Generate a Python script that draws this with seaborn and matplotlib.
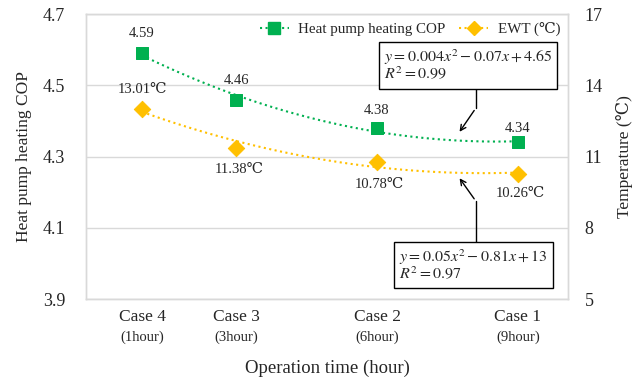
import numpy as np
import pandas as pd
import matplotlib
matplotlib.use('Agg')
import matplotlib.pyplot as plt
from matplotlib.lines import Line2D
import seaborn as sns

# Dados
casos = ['Case 4', 'Case 3', 'Case 2', 'Case 1']
horas = [1, 3, 6, 9]
horas_rotulo = ['(1hour)', '(3hour)', '(6hour)', '(9hour)']
cop = [4.59, 4.46, 4.38, 4.34]
ewt = [13.01, 11.38, 10.78, 10.26]
eq_cop = r'$y = 0.004x^2 - 0.07x + 4.65$' + '\n' + r'$R^2 = 0.99$'
eq_ewt = r'$y = 0.05x^2 - 0.81x + 13$' + '\n' + r'$R^2 = 0.97$'

df = pd.DataFrame({'hora': horas, 'cop': cop, 'ewt': ewt})

verde = '#00B050'
amarelo = '#FFC000'
cinza = '#D9D9D9'

sns.set_style('white')
plt.rcParams['font.family'] = ['Liberation Serif', 'DejaVu Serif', 'Noto Sans CJK JP']
plt.rcParams['mathtext.fontset'] = 'stix'

fig = plt.figure(figsize=(6.43, 3.82), dpi=100)
ax = fig.add_axes([0.134, 0.217, 0.749, 0.746])
ax2 = ax.twinx()

# COP
sns.regplot(x='hora', y='cop', data=df, order=2, ci=None, scatter=False, ax=ax,
            line_kws={'color': verde, 'ls': ':', 'lw': 1.5})
sns.scatterplot(x='hora', y='cop', data=df, ax=ax, marker='s', s=80,
                color=verde, edgecolor=verde, zorder=5)

# EWT
sns.regplot(x='hora', y='ewt', data=df, order=2, ci=None, scatter=False, ax=ax2,
            line_kws={'color': amarelo, 'ls': ':', 'lw': 1.5})
sns.scatterplot(x='hora', y='ewt', data=df, ax=ax2, marker='D', s=70,
                color=amarelo, edgecolor=amarelo, zorder=5)

# rotulos de dados
off_cop = [(0, 14), (0, 14), (0, 13), (0, 10)]
off_ewt = [(0, 14), (2, -16), (2, -16), (2, -14)]
for h, v, o in zip(horas, cop, off_cop):
    ax.annotate(f'{v:.2f}', (h, v), xytext=o, textcoords='offset points',
                ha='center', va='center', fontsize=10.5)
for h, v, o in zip(horas, ewt, off_ewt):
    ax2.annotate(f'{v:.2f}℃', (h, v), xytext=o, textcoords='offset points',
                 ha='center', va='center', fontsize=10.5)

# eixos
ax.set_xlim(-0.19, 10.06)
ax.set_ylim(3.9, 4.7)
ax.set_yticks([3.9, 4.1, 4.3, 4.5, 4.7])
ax.set_yticklabels(['3.9', '4.1', '4.3', '4.5', '4.7'])
ax2.set_ylim(5, 17)
ax2.set_yticks([5, 8, 11, 14, 17])
ax.set_xticks(horas)
ax.set_xticklabels(casos, fontsize=12.5)
ax.tick_params(axis='y', labelsize=13, length=0, pad=15)
ax.tick_params(axis='x', length=0, pad=7)
ax2.tick_params(axis='y', labelsize=13, length=0, pad=12)
for h, r in zip(horas, horas_rotulo):
    ax.text(h, -0.135, r, transform=ax.get_xaxis_transform(),
            ha='center', va='center', fontsize=10.5)

ax.grid(axis='y', color=cinza, lw=1)
ax.set_axisbelow(True)
for a in (ax, ax2):
    for s in a.spines.values():
        s.set_color(cinza)
        s.set_linewidth(1)

ax.set_xlabel('')
ax2.set_xlabel('')
ax.set_ylabel('Heat pump heating COP', fontsize=12.5, labelpad=8)
ax2.set_ylabel('Temperature (℃)', fontsize=12.5, labelpad=10)
fig.text(0.509, 0.035, 'Operation time (hour)', ha='center', va='center', fontsize=13.5)

# legenda
handles = [
    Line2D([], [], color=verde, ls=':', lw=1.5, marker='s', markersize=8),
    Line2D([], [], color=amarelo, ls=':', lw=1.5, marker='D', markersize=7.5),
]
leg = ax2.legend(handles, ['Heat pump heating COP', 'EWT (℃)'], loc='upper right',
                 ncol=2, frameon=False, fontsize=10.8, bbox_to_anchor=(1.012, 1.02),
                 handlelength=1.9, columnspacing=0.9, handletextpad=0.65)
leg.set_zorder(20)

# equacoes
caixa = dict(boxstyle='square,pad=0.3', fc='white', ec='black', lw=1)
ax2.text(0.618, 0.819, eq_cop, transform=ax2.transAxes, ha='left', va='center',
         fontsize=11.5, bbox=caixa, linespacing=0.95, zorder=10)
ax2.text(0.65, 0.118, eq_ewt, transform=ax2.transAxes, ha='left', va='center',
         fontsize=11.5, bbox=caixa, linespacing=0.95, zorder=10)

# setas
ax2.plot([0.809, 0.809], [0.751, 0.670], color='black', lw=1, transform=ax2.transAxes)
ax2.annotate('', xy=(0.772, 0.579), xytext=(0.809, 0.670), xycoords='axes fraction',
             textcoords='axes fraction', arrowprops=dict(arrowstyle='->', color='black', lw=1))
ax2.plot([0.809, 0.809], [0.186, 0.344], color='black', lw=1, transform=ax2.transAxes)
ax2.annotate('', xy=(0.772, 0.432), xytext=(0.809, 0.344), xycoords='axes fraction',
             textcoords='axes fraction', arrowprops=dict(arrowstyle='->', color='black', lw=1))

fig.savefig('out.png', dpi=100)
